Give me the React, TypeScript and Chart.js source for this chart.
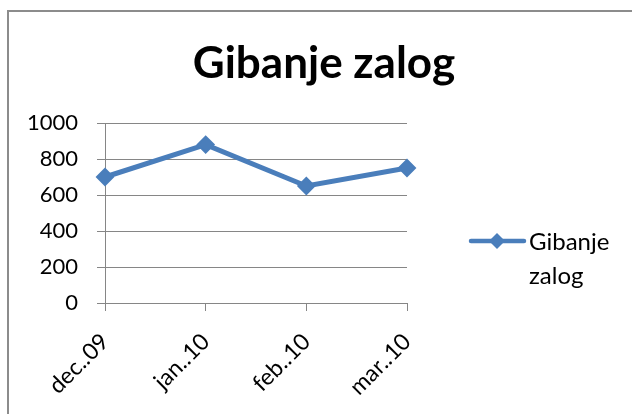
import React, { useEffect, useRef } from "react";
import { Chart, registerables } from "chart.js";

Chart.register(...registerables);

const categories = ["dec..09", "jan..10", "feb..10", "mar..10"];
const seriesName = "Gibanje zalog";
const seriesValues = [700, 880, 650, 750];
const yTicks = [0, 200, 400, 600, 800, 1000];
const titleText = "Gibanje zalog";
const legendLines = ["Gibanje", "zalog"];

const FONT = "Lato, 'Open Sans', sans-serif";
const BLUE = "#4A7EBB";
const GRID = "#868686";

const titlePlugin = {
  id: "customTitle",
  afterDraw(chart: any) {
    const ctx = chart.ctx;
    ctx.save();
    ctx.font = `bold 44px ${FONT}`;
    ctx.fillStyle = "#000";
    ctx.textAlign = "center";
    ctx.textBaseline = "alphabetic";
    ctx.fillText(titleText, 324, 78);
    ctx.restore();
  },
};

const legendPlugin = {
  id: "customLegend",
  afterDraw(chart: any) {
    const ctx = chart.ctx;
    const ds = chart.data.datasets[0];
    ctx.save();
    ctx.strokeStyle = ds.borderColor;
    ctx.lineWidth = 4.5;
    ctx.lineCap = "round";
    ctx.beginPath();
    ctx.moveTo(471, 241);
    ctx.lineTo(524, 241);
    ctx.stroke();
    ctx.fillStyle = ds.pointBackgroundColor;
    ctx.beginPath();
    ctx.moveTo(497, 233);
    ctx.lineTo(505, 241);
    ctx.lineTo(497, 249);
    ctx.lineTo(489, 241);
    ctx.closePath();
    ctx.fill();
    ctx.font = `24px ${FONT}`;
    ctx.fillStyle = "#000";
    ctx.textAlign = "left";
    ctx.textBaseline = "alphabetic";
    ctx.fillText(legendLines[0], 529, 250);
    ctx.fillText(legendLines[1], 529, 284);
    ctx.restore();
  },
};

export default function App() {
  const ref = useRef<HTMLCanvasElement | null>(null);
  useEffect(() => {
    if (!ref.current) return;
    const chart = new Chart(ref.current, {
      type: "line",
      data: {
        labels: categories,
        datasets: [
          {
            label: seriesName,
            data: seriesValues,
            borderColor: BLUE,
            backgroundColor: BLUE,
            pointBackgroundColor: BLUE,
            pointBorderColor: BLUE,
            borderWidth: 5,
            pointStyle: "rectRot",
            pointRadius: 8,
            pointBorderWidth: 2,
            tension: 0,
          },
        ],
      },
      options: {
        animation: false,
        responsive: false,
        maintainAspectRatio: false,
        layout: { padding: { left: 0, top: 123, right: 225, bottom: 0 } },
        plugins: {
          legend: { display: false },
          title: { display: false },
          tooltip: { enabled: false },
        },
        scales: {
          x: {
            type: "category",
            offset: false,
            afterFit(scale: any) {
              scale.height = 111;
            },
            grid: {
              display: true,
              drawOnChartArea: false,
              drawTicks: true,
              tickLength: 8,
              color: GRID,
              lineWidth: 1,
            },
            border: { display: true, color: GRID, width: 1 },
            ticks: {
              minRotation: 45,
              maxRotation: 45,
              autoSkip: false,
              padding: 17,
              color: "#000",
              font: { family: FONT, size: 23 },
            },
          },
          y: {
            min: 0,
            max: 1000,
            afterFit(scale: any) {
              scale.width = 105;
            },
            afterBuildTicks(scale: any) {
              scale.ticks = yTicks.map((v) => ({ value: v }));
            },
            grid: {
              display: true,
              drawTicks: true,
              tickLength: 8,
              color: GRID,
              lineWidth: 1,
            },
            border: { display: true, color: GRID, width: 1 },
            ticks: {
              stepSize: 200,
              padding: 19,
              color: "#000",
              font: { family: FONT, size: 22 },
              callback: (v: any) => String(v),
            },
          },
        },
      },
      plugins: [titlePlugin, legendPlugin],
    });
    return () => chart.destroy();
  }, []);

  return (
    <div
      style={{
        position: "fixed",
        left: 0,
        top: 0,
        width: 632,
        height: 414,
        background: "#fff",
        overflow: "hidden",
      }}
    >
      <div
        style={{
          position: "absolute",
          left: 7,
          top: 10,
          width: 640,
          height: 420,
          borderLeft: "2px solid #8c8c8c",
          borderTop: "2px solid #8c8c8c",
        }}
      />
      <canvas
        ref={ref}
        width={632}
        height={414}
        style={{ position: "absolute", left: 0, top: 0, width: 632, height: 414 }}
      />
    </div>
  );
}
